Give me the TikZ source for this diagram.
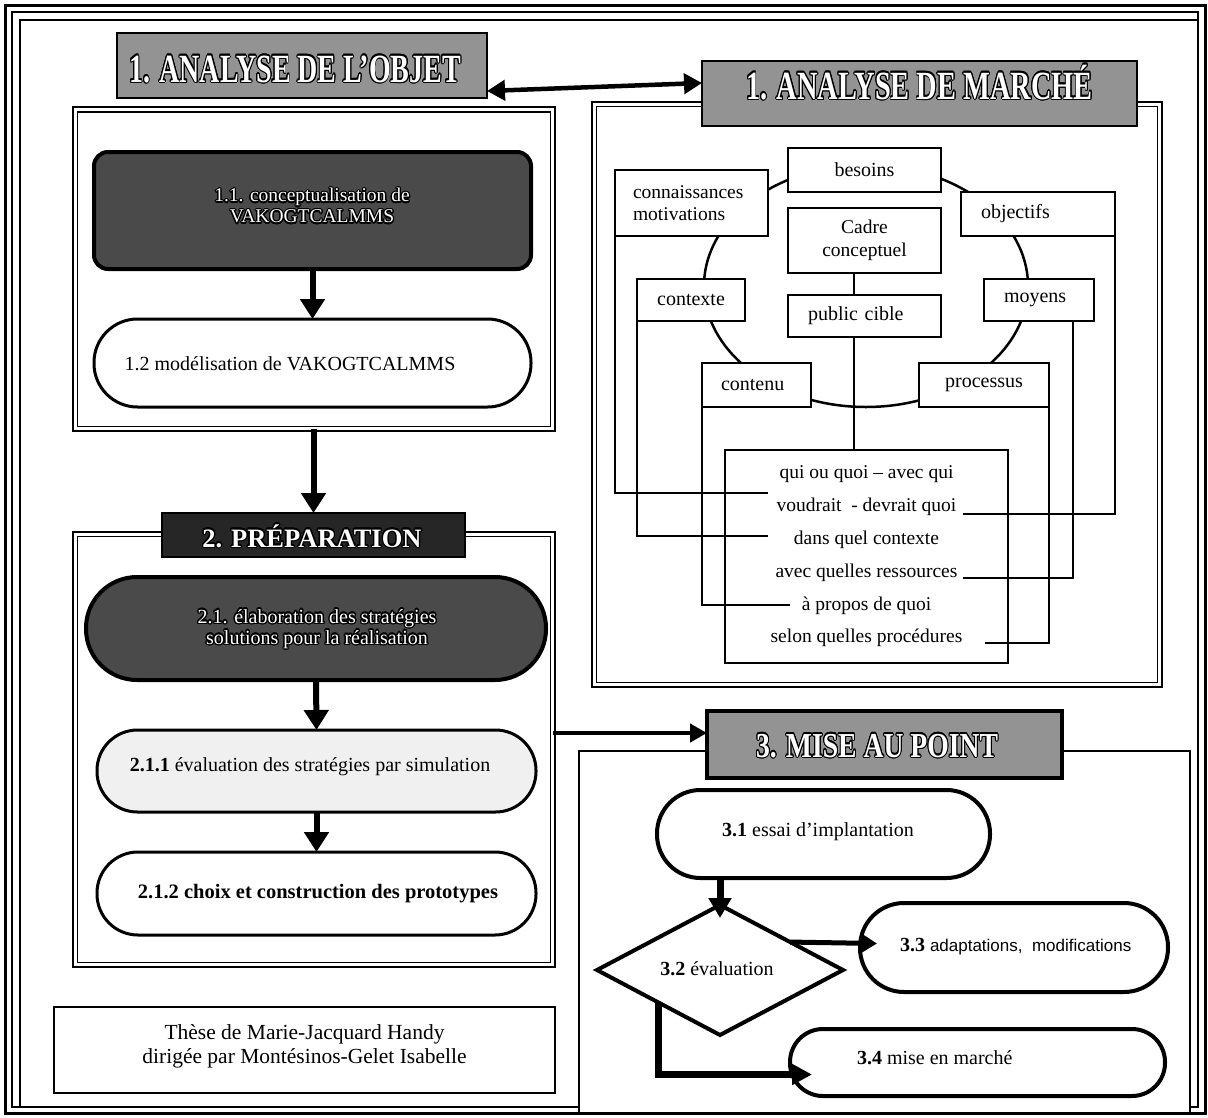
\documentclass[tikz,border=0pt]{standalone}
\usepackage{fontspec}
\setmainfont{Liberation Serif}
\setsansfont{Liberation Sans}
\usepackage[copies]{contour}
\contourlength{1.3pt}
\usetikzlibrary{arrows.meta,shapes.geometric,calc}
\definecolor{hdrgray}{HTML}{939393}
\definecolor{darkfill}{HTML}{4A4A4A}
\definecolor{vdark}{HTML}{262626}
\definecolor{lightfill}{HTML}{F0F0F0}
\newcommand{\hdrtxt}[3]{\scalebox{#2}[1]{\fontsize{#1}{#1}\selectfont\bfseries\color{white}\contour{black}{#3}}}
\newcommand{\wtxt}[1]{{\color{white}\contour{black}{#1}}}
\begin{document}
\begin{tikzpicture}[x=1pt,y=-1pt,
  every node/.style={inner sep=0pt, outer sep=0pt, font=\fontsize{20}{23}\selectfont},
  hdr/.style={draw=black, line width=2pt, fill=hdrgray},
  dbl/.style={draw=black, line width=1.7pt, double=white, double distance=2.7pt},
  mbox/.style={draw=black, line width=1.6pt, fill=white},
  mlink/.style={line width=1.6pt},
  tarrow/.style={line width=6pt, -{Triangle[width=24pt,length=20pt]}}]
\useasboundingbox (0,0) rectangle (1208,1117);
% frame
\draw[line width=3pt] (5,5) rectangle (1205,1113);
\draw[line width=1.2pt] (12,12) rectangle (1198,1107);
\draw[line width=1.2pt] (20,1107) -- (20,20) -- (1198,20);
% boxes
\node[dbl, minimum width=477.5pt, minimum height=319.25pt] (b1) at (314,269.1) {};
\node[dbl, minimum width=477.5pt, minimum height=430.5pt] (b2) at (314,749.5) {};
\node[dbl, minimum width=565.5pt, minimum height=580.5pt] (bm) at (877,394.5) {};
\node[draw, line width=2.5pt, fill=white, minimum width=611pt, minimum height=362pt] (b3) at (884.5,932) {};
\node[draw, line width=1.3pt, minimum width=501pt, minimum height=86pt] (these) at (304.5,1050) {};
\node[font=\fontsize{21.5}{24}\selectfont, align=center] (tthese) at (304.5,1046) {Thèse de Marie-Jacquard Handy\\dirigée par Montésinos-Gelet Isabelle};
% headers
\node[hdr, minimum width=370pt, minimum height=65pt] (hA) at (302,65.5) {};
\node[hdr, minimum width=435pt, minimum height=65pt] (hM) at (919.5,93.5) {};
\node[hdr, fill=vdark, minimum width=303pt, minimum height=44pt] (h2) at (313.5,535) {};
\node[hdr, line width=4pt, minimum width=355pt, minimum height=67pt] (h3) at (884.5,744.5) {};
\node[anchor=base] (tA) at (295,82) {\hdrtxt{40}{0.7}{1. ANALYSE DE L’OBJET}};
\node[anchor=base] (tM) at (919.5,99) {\hdrtxt{40}{0.71}{1. ANALYSE DE MARCHÉ}};
\node[anchor=base] (t2) at (312,547) {\hdrtxt{26.5}{1}{2. PRÉPARATION}};
\node[anchor=base] (t3h) at (877,757) {\hdrtxt{35}{0.79}{3. MISE AU POINT}};
% market analysis
\draw[line width=2.5pt] (866,286) ellipse [x radius=162pt, y radius=121pt];
\node[mbox, minimum width=153pt, minimum height=44pt] (bes) at (864.5,170) {besoins};
\node[mbox, text width=117pt, inner xsep=18pt, minimum height=66pt, align=left, font=\fontsize{19.5}{22}\selectfont] (con) at (691.5,203) {connaissances\\motivations};
\node[mbox, text width=114pt, inner xsep=20pt, minimum height=44pt, align=left] (obj) at (1038,214) {objectifs};
\node[mbox, minimum width=153pt, minimum height=65pt, align=center, font=\fontsize{19.5}{23}\selectfont] (cad) at (864.5,240.5) {Cadre\\conceptuel};
\node[mbox, minimum width=108pt, minimum height=42pt] (ctx) at (691,300) {contexte};
\node[mbox, text width=113pt, inner xsep=20pt, minimum height=42pt, align=left] (pub) at (864.5,316) {public cible};
\node[mbox, text width=70pt, inner xsep=20pt, minimum height=42pt, align=left] (moy) at (1039,300) {moyens};
\node[mbox, text width=71pt, inner xsep=19pt, minimum height=44pt, align=left] (cnt) at (756.5,385) {contenu};
\node[mbox, minimum width=130pt, minimum height=44pt] (pro) at (984,385) {processus};
\node[draw, line width=1.6pt, minimum width=283pt, minimum height=213pt, align=center, font=\fontsize{19.5}{32.8}\selectfont] (txt) at (866.5,556.5) {qui ou quoi -- avec qui\\voudrait\ \ - devrait quoi\\dans quel contexte\\avec quelles ressources\\à propos de quoi\\selon quelles procédures};
\coordinate (e1) at (768,493);
\coordinate (e2) at (768,536);
\coordinate (e3) at (790,605);
\coordinate (e4) at (963,514);
\coordinate (e5) at (963,578);
\coordinate (e6) at (985,643);
\coordinate (vx) at (854,0);
\draw[mlink] (con.south west) |- (e1);
\draw[mlink] (ctx.south west) |- (e2);
\draw[mlink] (cnt.south west) |- (e3);
\draw[mlink] (obj.south east) |- (e4);
\draw[mlink] ($(moy.south east)+(-21,0)$) |- (e5);
\draw[mlink] (pro.south east) |- (e6);
\draw[mlink] (cad.south -| vx) -- (pub.north -| vx);
\draw[mlink] (pub.south -| vx) -- (txt.north -| vx);
% left column
\node[draw, line width=4pt, rounded corners=14pt, fill=darkfill, minimum width=437pt, minimum height=117pt] (n11) at (312.5,210.5) {};
\node[align=center, font=\fontsize{19.5}{21}\selectfont] (t11) at (312,206.5) {\wtxt{1.1. conceptualisation de}\\\wtxt{VAKOGTCALMMS}};
\node[draw, line width=3pt, rounded corners=43.5pt, minimum width=437pt, minimum height=88pt] (n12) at (312.5,363) {};
\node (t12) at (290,364) {1.2 modélisation de VAKOGTCALMMS};
\node[draw, line width=4pt, rounded corners=51pt, fill=darkfill, minimum width=460pt, minimum height=103pt] (n21) at (316,628.5) {};
\node[align=center, font=\fontsize{20}{21}\selectfont] (t21) at (317,629.5) {\wtxt{2.1. élaboration des stratégies}\\\wtxt{solutions pour la réalisation}};
\node[draw, line width=3pt, rounded corners=40.5pt, fill=lightfill, minimum width=439pt, minimum height=82pt] (n211) at (316.5,771) {};
\node (t211) at (310,767) {\textbf{2.1.1} évaluation des stratégies par simulation};
\node[draw, line width=3pt, rounded corners=41pt, minimum width=439pt, minimum height=83pt] (n212) at (316.5,893.5) {};
\node[font=\fontsize{20.5}{23}\selectfont\bfseries] (t212) at (318,894) {2.1.2 choix et construction des prototypes};
\draw[tarrow] (n11.south) -- (n12.north);
\draw[tarrow] (b1.south -| h2.north) -- (h2.north);
\draw[tarrow] (n21.south) -- (n211.north);
\draw[tarrow] (n211.south) -- (n212.north);
% top double arrow
\coordinate (dA) at ($(hA.east)+(0,25.5)$);
\coordinate (dM) at ($(hM.west)+(0,-10.5)$);
\draw[line width=4.5pt, {Triangle[width=20pt,length=18pt]}-{Triangle[width=20pt,length=18pt]}] (dA) -- (dM);
% arrow to section 3
\coordinate (t3) at ($(h3.west)+(0,-11.5)$);
\draw[line width=4.5pt, -{Triangle[width=18pt,length=17pt]}] (b2.east |- t3) -- (t3);
% section 3
\node[draw, line width=4pt, rounded corners=43.5pt, minimum width=333pt, minimum height=88pt] (n31) at (823.5,834) {};
\node (t31) at (818,832) {\textbf{3.1} essai d’implantation};
\node[draw, diamond, line width=4pt, minimum width=246pt, minimum height=130pt] (dia) at (720,970) {};
\node (t32) at (717,969) {\textbf{3.2} évaluation};
\node[draw, line width=4pt, rounded corners=44pt, minimum width=308pt, minimum height=89pt] (n33) at (1014,947.5) {};
\node[anchor=west] (t33) at (900,947) {\textbf{3.3} {\sffamily\fontsize{17}{20}\selectfont adaptations,\ \ modifications}};
\node[draw, line width=4pt, rounded corners=33pt, minimum width=375pt, minimum height=67pt] (n34) at (977.5,1062.5) {};
\node[anchor=west] (t34) at (857,1058) {\textbf{3.4} mise en marché};
\coordinate (a31) at ($(dia.north)+(0,13)$);
\draw[line width=7pt, -{Triangle[width=22pt,length=20pt]}] (n31.south -| dia.north) -- (a31);
\coordinate (s33) at ($(dia.north)!0.57!(dia.east)$);
\coordinate (a33) at ($(n33.west)+(17,-4)$);
\draw[line width=5pt, -{Triangle[width=20pt,length=17pt]}] (s33) -- (a33);
\coordinate (s34) at ($(dia.west)!0.5!(dia.south)$);
\coordinate (a34) at ($(n34.west)+(22,12)$);
\draw[line width=7pt, -{Triangle[width=20pt,length=20pt]}] (s34) |- (a34);
\end{tikzpicture}
\end{document}
